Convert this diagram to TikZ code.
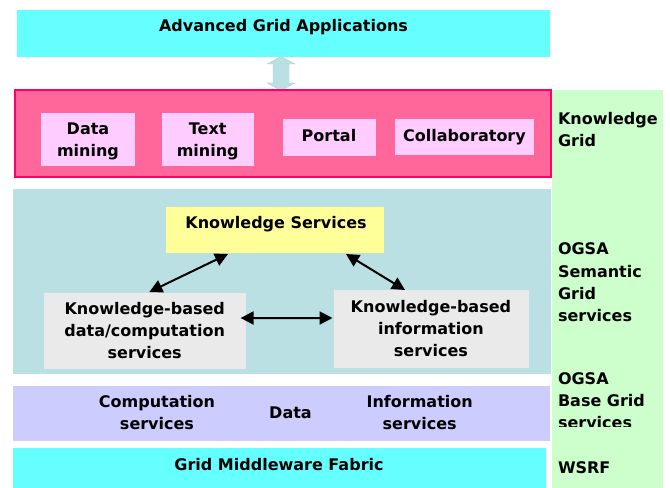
\documentclass[tikz,border=0pt]{standalone}
\usepackage{fontspec}
\setmainfont{DejaVu Sans}
\usetikzlibrary{arrows.meta,calc}
\definecolor{cyanbox}{HTML}{66FFFF}
\definecolor{pinkbox}{HTML}{FF6699}
\definecolor{pinkline}{HTML}{FF0066}
\definecolor{lightpink}{HTML}{FFCCFF}
\definecolor{greencol}{HTML}{CCFFCC}
\definecolor{tealbox}{HTML}{BBE0E3}
\definecolor{yellowbox}{HTML}{FFFF99}
\definecolor{greybox}{HTML}{EAEAEA}
\definecolor{lavbox}{HTML}{CCCCFF}
\begin{document}
\begin{tikzpicture}[x=1bp,y=-1bp,
  every node/.style={font=\bfseries\fontsize{16bp}{22bp}\selectfont, inner sep=0pt, outer sep=0pt},
  panel/.style={rectangle, draw=none},
  ctxt/.style={anchor=base, align=center},
  ltxt/.style={anchor=base west, align=left},
  dart/.style={line width=2bp, {Triangle[length=13bp,width=13bp]}-{Triangle[length=13bp,width=13bp]}}]
\useasboundingbox (0,0) rectangle (670,488);
% right column
\node[panel, fill=greencol, minimum width=111bp, minimum height=398bp] (col) at (607.5,289) {};
% top applications
\node[panel, fill=cyanbox, minimum width=533bp, minimum height=47bp] (apps) at (283.5,33.5) {};
\node[ctxt] (appsT) at (283.5,32) {Advanced Grid Applications};
% block double arrow
\filldraw[fill=tealbox, draw=tealbox!85!gray, line width=0.4bp] (281,56.5) -- (295,64) -- (289,64) -- (289,83) -- (295,83) -- (281,90.5)
  -- (267,83) -- (273,83) -- (273,64) -- (267,64) -- cycle;
% knowledge grid layer
\node[panel, fill=pinkbox, draw=pinkline, line width=1.5bp, minimum width=536bp, minimum height=87bp] (kg) at (283,133.5) {};
\node[panel, fill=lightpink, minimum width=94bp, minimum height=53bp] (dm) at (88,139.5) {};
\node[ctxt] (dmT) at (88,157) {Data\\mining};
\node[panel, fill=lightpink, minimum width=92bp, minimum height=53bp] (tm) at (207.7,139.5) {};
\node[ctxt] (tmT) at (207.7,157) {Text\\mining};
\node[panel, fill=lightpink, minimum width=93bp, minimum height=37bp] (po) at (329.5,137.5) {};
\node[ctxt] (poT) at (329,142) {Portal};
\node[panel, fill=lightpink, minimum width=139.5bp, minimum height=36bp] (co) at (464.7,137) {};
\node[ctxt] (coT) at (464.5,142) {Collaboratory};
\node[ltxt] (kgT) at (558,147) {Knowledge\\Grid};
% semantic grid layer
\node[panel, fill=tealbox, minimum width=538bp, minimum height=185bp] (sg) at (282,281.5) {};
\node[panel, fill=yellowbox, minimum width=217.6bp, minimum height=46bp] (ks) at (274.8,230) {};
\node[ctxt] (ksT) at (276,229) {Knowledge Services};
\node[panel, fill=greybox, minimum width=201.6bp, minimum height=76bp] (kbd) at (144.8,331) {};
\node[ctxt] (kbdT) at (144.7,358) {Knowledge-based\\data/computation\\services};
\node[panel, fill=greybox, minimum width=195bp, minimum height=78bp] (kbi) at (431,329) {};
\node[ctxt] (kbiT) at (430.9,356) {Knowledge-based\\information\\services};
\draw[dart] ([xshift=4.5bp,yshift=1bp]kbd.north) -- ([xshift=-46.8bp,yshift=-1bp]ks.south);
\draw[dart] ([xshift=71.2bp,yshift=-1bp]ks.south) -- ([xshift=-26bp]kbi.north);
\draw[dart] ([xshift=-5bp,yshift=13bp]kbd.east) -- ([xshift=-1bp,yshift=11bp]kbi.west);
\node[ltxt] (sgT) at (558,321) {OGSA\\Semantic\\Grid\\services};
% base grid layer
\node[panel, fill=lavbox, minimum width=537bp, minimum height=55bp] (bg) at (281.5,413.5) {};
\node[ctxt] (cs) at (157,429) {Computation\\services};
\node[ctxt] (da) at (290.5,418) {Data};
\node[ctxt] (is) at (419.7,429) {Information\\services};
\begin{scope}
\clip (550,368) rectangle (668,426);
\node[ltxt] (bgT) at (558,428) {OGSA\\Base Grid\\services};
\end{scope}
% fabric
\node[panel, fill=cyanbox, minimum width=533bp, minimum height=40bp] (fab) at (279.5,468) {};
\node[ctxt] (fabT) at (279,470) {Grid Middleware Fabric};
\node[ltxt] (ws) at (558,473) {WSRF};
\end{tikzpicture}
\end{document}
